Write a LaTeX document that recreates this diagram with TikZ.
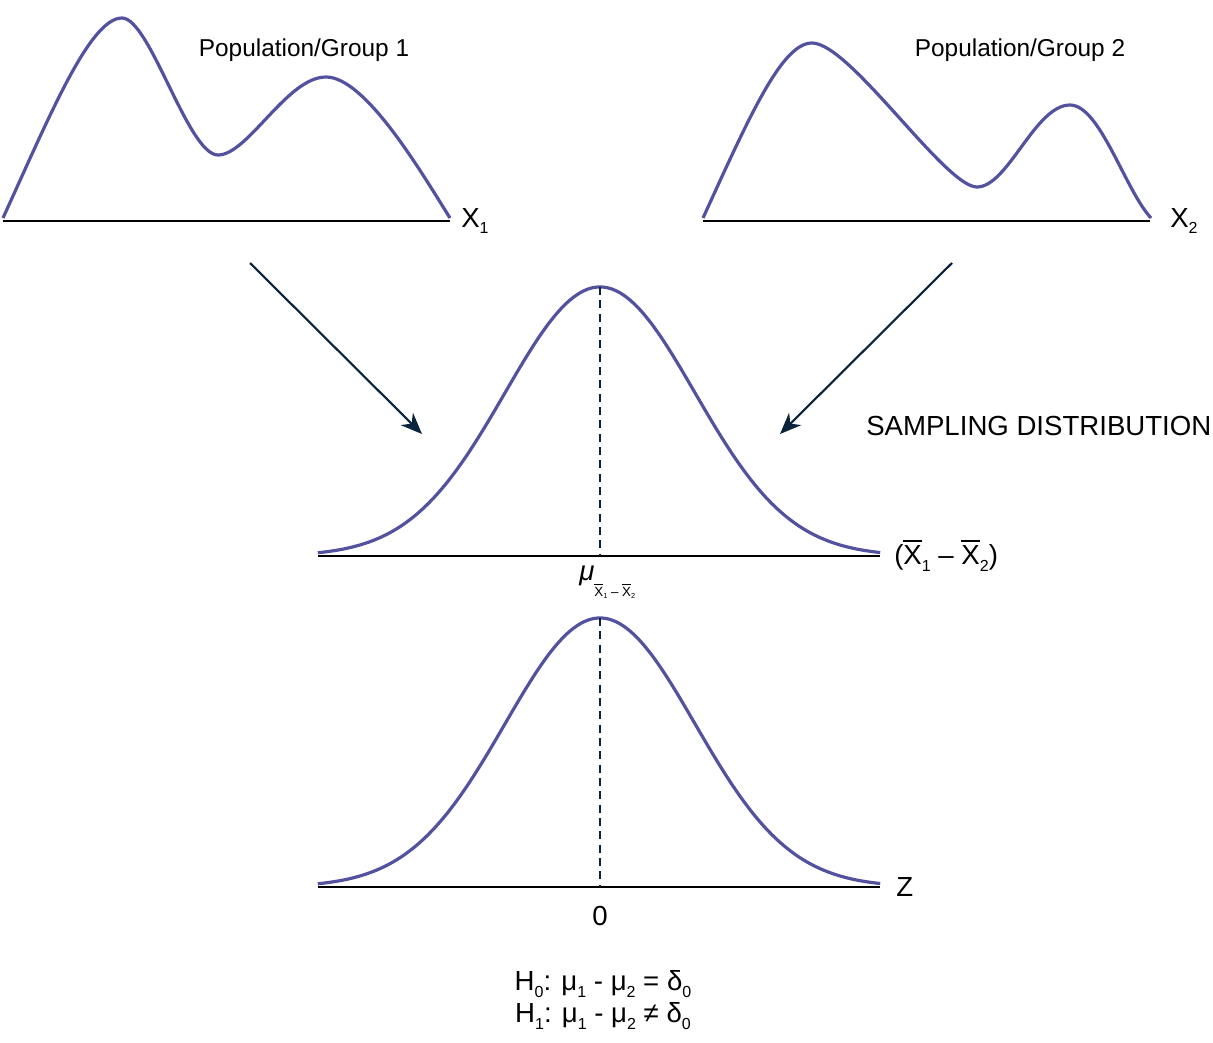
\documentclass[tikz,border=0pt]{standalone}
\usepackage{fontspec}
\setmainfont{Liberation Sans}
\usetikzlibrary{arrows.meta}
\definecolor{curvecol}{RGB}{82,82,158}
\definecolor{arrowcol}{RGB}{10,36,60}
\newcommand\myxbar[1]{\vbox{\hrule height 0.07em\kern 0.13em\hbox{#1}}}
\begin{document}
\begin{tikzpicture}[x=0.75pt,y=-0.75pt,
  curve/.style={draw=curvecol,line width=2.4pt,line join=round},
  axisline/.style={draw=black,line width=1.6pt},
  midline/.style={draw=arrowcol,line width=0.8pt,dash pattern=on 6pt off 4pt},
  flowarrow/.style={draw=arrowcol,line width=1.6pt,-{Stealth[length=16pt,width=13pt,inset=5pt]}},
  lab/.style={inner sep=0pt,font=\fontsize{18.3}{20}\selectfont},
  biglab/.style={inner sep=0pt,font=\fontsize{20.7}{24}\selectfont}]
\useasboundingbox (0,0) rectangle (1213,1042);
% group 1
\draw[curve] (3,218) .. controls (50,115) and (90,18) .. (122,18)
  .. controls (150,18) and (188,155) .. (218,155)
  .. controls (248,155) and (287,77) .. (326,77)
  .. controls (365,77) and (420,170) .. (450,218);
\draw[axisline] (3,221) -- (450,221);
% group 2
\draw[curve] (703,218) .. controls (750,115) and (782,43) .. (812,43)
  .. controls (850,43) and (945,187) .. (977,187)
  .. controls (1008,187) and (1035,105) .. (1070,105)
  .. controls (1100,105) and (1125,190) .. (1151,218);
\draw[axisline] (703,221) -- (1150,221);
% sampling distribution
\draw[curve] plot[domain=-2.97:2.95,samples=120,smooth] ({600+95*\x},{556-269*exp(-\x*\x/2)});
\draw[axisline] (318,556) -- (880,556);
\coordinate (p1) at (600,287);
\coordinate (b1) at (600,556);
\draw[midline] (p1) -- (b1);
% Z distribution
\draw[curve] plot[domain=-2.97:2.95,samples=120,smooth] ({600+95*\x},{887-269*exp(-\x*\x/2)});
\draw[axisline] (318,887) -- (880,887);
\coordinate (p2) at (600,618);
\coordinate (b2) at (600,887);
\draw[midline] (p2) -- (b2);
% arrows
\coordinate (a1s) at (250,263);
\coordinate (a1e) at (422,434);
\coordinate (a2s) at (952,263);
\coordinate (a2e) at (780,434);
\draw[flowarrow] (a1s) -- (a1e);
\draw[flowarrow] (a2s) -- (a2e);
% labels
\node[lab] (g1) at (304,50) {Population/Group 1};
\node[lab] (g2) at (1020,50) {Population/Group 2};
\node[biglab,anchor=west] (x1) at (461,221) {X\raisebox{-0.45ex}{\fontsize{12}{14}\selectfont 1}};
\node[biglab,anchor=west] (x2) at (1170,221) {X\raisebox{-0.45ex}{\fontsize{12}{14}\selectfont 2}};
\node[biglab,anchor=west] (sd) at (866,426) {SAMPLING DISTRIBUTION};
\node[biglab,anchor=west] (diff) at (894,556) {(\myxbar{X}\raisebox{-0.45ex}{\fontsize{12}{14}\selectfont 1} – \myxbar{X}\raisebox{-0.45ex}{\fontsize{12}{14}\selectfont 2})};
\node[biglab,anchor=west] (mu) at (579,582) {\textit{μ}\raisebox{-1.1ex}{\fontsize{10}{11}\selectfont\myxbar{X}\raisebox{-0.3ex}{\fontsize{5.5}{6}\selectfont 1} – \myxbar{X}\raisebox{-0.3ex}{\fontsize{5.5}{6}\selectfont 2}}};
\node[biglab,anchor=west] (z) at (896,887) {Z};
\node[biglab] (zero) at (600,916) {0};
\node[biglab] (h0) at (603,984) {H\raisebox{-0.45ex}{\fontsize{12}{14}\selectfont 0}: μ\raisebox{-0.45ex}{\fontsize{12}{14}\selectfont 1} - μ\raisebox{-0.45ex}{\fontsize{12}{14}\selectfont 2} = δ\raisebox{-0.45ex}{\fontsize{12}{14}\selectfont 0}};
\node[biglab] (h1) at (603,1016) {H\raisebox{-0.45ex}{\fontsize{12}{14}\selectfont 1}: μ\raisebox{-0.45ex}{\fontsize{12}{14}\selectfont 1} - μ\raisebox{-0.45ex}{\fontsize{12}{14}\selectfont 2} ≠ δ\raisebox{-0.45ex}{\fontsize{12}{14}\selectfont 0}};
\end{tikzpicture}
\end{document}
